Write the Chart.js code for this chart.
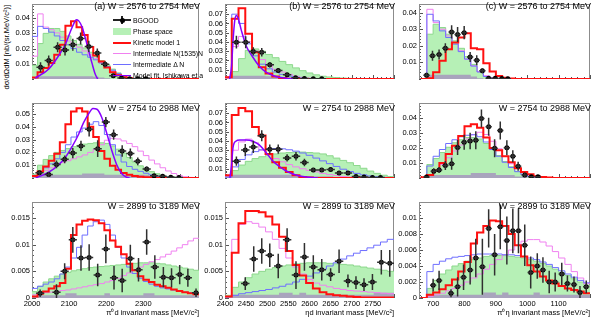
<!DOCTYPE html>
<html>
<head>
<meta charset="utf-8">
<script src="https://cdn.jsdelivr.net/npm/chart.js@4.4.0/dist/chart.umd.min.js"></script>
<style>
  body { margin: 0; background: #fff; }
  #fig { position: relative; width: 598px; height: 319px; overflow: hidden;
         font-family: "Liberation Sans", Arial, Helvetica, sans-serif; color: #000; }
  #fig canvas { position: absolute; }
  .ttl { position: absolute; font-size: 9px; line-height: 9px; white-space: nowrap; text-align: right; width: 160px; }
  .ytitle { position: absolute; left: 3px; top: 97px; width: 92px; font-size: 7.5px; line-height: 8px;
            white-space: nowrap; text-align: right; transform-origin: 0 0; transform: rotate(-90deg); }
  #legend { position: absolute; left: 0; top: 0; width: 203px; height: 100px; overflow: hidden; }
  .leg { position: absolute; left: 133px; font-size: 6.9px; line-height: 9px; white-space: nowrap; }
  .sym { position: absolute; }
</style>
</head>
<body>
<div id="fig">
  <div class="ytitle">dσ/dΩdM [nb/(sr.MeV/c²)]</div>
</div>
<script>
// ---- bin edges (MeV) for each column ----
const aEdges = [2000,2015,2030,2045,2060,2075,2090,2105,2120,2135,2150,2165,2180,2195,2210,2225,2240,2255,2270,2285,2300,2315,2330,2345,2360,2375,2390,2405,2420,2435,2450];
const bEdges = [2400,2416,2432,2448,2464,2480,2496,2512,2528,2544,2560,2576,2592,2608,2624,2640,2656,2672,2688,2704,2720,2736,2752,2768,2784,2800];
const cEdges = [660,680,700,720,740,760,780,800,820,840,860,880,900,920,940,960,980,1000,1020,1040,1060,1080,1100,1120,1140,1160,1180,1200];

// tick labels
const aTicks = [2000, 2100, 2200, 2300];
const bTicks = [2400, 2450, 2500, 2550, 2600, 2650, 2700, 2750];
const cTicks = [700, 800, 900, 1000, 1100];

// ---- W = 2576 to 2754 MeV ----
const a1Red   = [0.001,0.0044,0.0072,0.0105,0.016,0.0225,0.035,0.0379,0.034,0.029,0.021,0.0155,0.0115,0.0075,0.0045,0.0025,0.0012,0.0005,0,0,0,0,0,0,0,0,0,0,0,0];
const a1Pink  = [0.015,0.0428,0.0341,0.0324,0.0303,0.0275,0.025,0.023,0.0209,0.0184,0.0159,0.0134,0.0105,0.0077,0.0052,0.003,0.0016,0.0007,0.0002,0,0,0,0,0,0,0,0,0,0,0];
const a1Blue  = [0.028,0.0346,0.0332,0.0308,0.0283,0.0253,0.0225,0.02,0.0176,0.0159,0.0143,0.0126,0.0105,0.0082,0.0058,0.0035,0.0019,0.0009,0.0003,0,0,0,0,0,0,0,0,0,0,0];
const a1Phase = [0.009,0.0233,0.03,0.0332,0.0332,0.0313,0.0283,0.0253,0.0228,0.0204,0.0176,0.0151,0.0121,0.0093,0.0065,0.004,0.0022,0.0009,0.0003,0,0,0,0,0,0,0,0,0,0,0];
const a1Bg    = [0.001,0.0018,0.0018,0.0018,0.0018,0.0018,0.0018,0.0018,0.0018,0.0018,0.0018,0.0015,0.001,0.0005,0,0,0,0,0,0,0,0,0,0,0,0,0,0,0,0];
const a1FitM  = [2009,2046,2069,2091,2104,2113,2119,2126,2135,2144,2153,2162,2170,2177];
const a1FitV  = [0.0006,0.0068,0.0143,0.0233,0.0316,0.0366,0.039,0.0382,0.0341,0.0266,0.0184,0.0101,0.0035,0];
const a1DataM = [2023,2045,2069,2089,2110,2131,2153,2176,2197,2219,2241,2263,2285,2307];
const a1DataV = [0.0077,0.0121,0.0209,0.0191,0.0225,0.0266,0.0214,0.0171,0.0097,0.0022,0.0006,0.0002,0.0001,0.0001];
const a1DataE = [0.0033,0.0033,0.0033,0.0037,0.004,0.004,0.0037,0.003,0.002,0.001,0.0005,0.0003,0.0002,0.0002];

const b1Red   = [0.002,0.065,0.0764,0.049,0.029,0.0126,0.006,0.0027,0.001,0.0004,0,0,0,0,0,0,0,0,0,0,0,0,0,0,0];
const b1Pink  = [0.001,0.035,0.046,0.04,0.03,0.021,0.015,0.0105,0.0075,0.005,0.003,0.0018,0.001,0.0005,0,0,0,0,0,0,0,0,0,0,0];
const b1Blue  = [0.002,0.07,0.06,0.038,0.025,0.016,0.011,0.0075,0.005,0.003,0.0018,0.001,0.0005,0,0,0,0,0,0,0,0,0,0,0,0];
const b1Phase = [0,0.008,0.022,0.031,0.0325,0.03,0.0265,0.023,0.019,0.0155,0.012,0.009,0.0065,0.0045,0.003,0.0022,0.0015,0.001,0.0007,0.0004,0.0002,0,0,0,0];
const b1Bg    = [0.002,0.0035,0.0035,0.0035,0.0035,0.0035,0.003,0.0018,0.001,0.0005,0,0,0,0,0,0,0,0,0,0,0,0,0,0,0];
const b1FitM  = [2411,2415.5,2419,2423,2427,2431,2439,2450,2466,2481,2497,2520,2543,2565];
const b1FitV  = [0,0.014,0.041,0.063,0.0687,0.066,0.052,0.036,0.0235,0.014,0.0073,0.0027,0.0008,0];
const b1DataM = [2427,2449,2467,2487,2506,2526,2547,2567,2588,2609,2629];
const b1DataV = [0.0398,0.0398,0.0298,0.0289,0.0154,0.0092,0.0046,0.0013,0.0005,0.0003,0.0002];
const b1DataE = [0.0068,0.0065,0.0045,0.0045,0.003,0.002,0.0015,0.001,0.0005,0.0004,0.0003];

const c1Red   = [0,0.0005,0.004,0.011,0.018,0.022,0.025,0.0275,0.0185,0.018,0.0095,0.0045,0.0018,0.0008,0.0003,0,0,0,0,0,0,0,0,0,0,0,0];
const c1Pink  = [0,0.042,0.034,0.03,0.026,0.022,0.017,0.012,0.008,0.0045,0.002,0.0008,0,0,0,0,0,0,0,0,0,0,0,0,0,0,0];
const c1Blue  = [0,0.039,0.035,0.029,0.025,0.021,0.0165,0.012,0.0078,0.0042,0.0015,0.0005,0,0,0,0,0,0,0,0,0,0,0,0,0,0,0];
const c1Phase = [0,0.027,0.033,0.031,0.027,0.023,0.0185,0.0135,0.0088,0.0045,0.0015,0.0005,0,0,0,0,0,0,0,0,0,0,0,0,0,0,0];
const c1Bg    = [0,0.0025,0.0025,0.0025,0.0025,0.0025,0.0025,0.0025,0.0015,0.0005,0,0,0,0,0,0,0,0,0,0,0,0,0,0,0,0,0];
const c1DataM = [679,698,719,739,759,778,799,818,839,857,877,898,919,938];
const c1DataV = [0.0023,0.014,0.0148,0.0186,0.0284,0.0268,0.0279,0.0133,0.0113,0.005,0.0005,0.0004,0.0003,0.0002];
const c1DataE = [0.0015,0.003,0.003,0.003,0.004,0.0045,0.004,0.003,0.003,0.0015,0.0005,0.0004,0.0003,0.0002];

// ---- W = 2754 to 2988 MeV ----
const a2Red   = [0.0015,0.005,0.009,0.0135,0.019,0.028,0.042,0.052,0.0545,0.052,0.04,0.032,0.021,0.015,0.0095,0.0065,0.004,0.0025,0.0016,0.001,0.0006,0.0003,0,0,0,0,0,0,0,0];
const a2Pink  = [0.002,0.004,0.006,0.008,0.01,0.012,0.0135,0.015,0.0165,0.018,0.02,0.0225,0.026,0.0295,0.031,0.0305,0.029,0.027,0.0245,0.021,0.0175,0.014,0.011,0.008,0.0055,0.0035,0.002,0.001,0.0005,0.0002];
const a2Blue  = [0.002,0.005,0.008,0.011,0.015,0.02,0.026,0.032,0.036,0.039,0.042,0.044,0.041,0.034,0.026,0.018,0.0125,0.009,0.0068,0.0052,0.0037,0.0025,0.0015,0.0008,0.0004,0,0,0,0,0];
const a2Phase = [0.003,0.01,0.0145,0.0175,0.02,0.0215,0.023,0.0245,0.0255,0.0265,0.027,0.0275,0.0275,0.027,0.025,0.0225,0.0195,0.016,0.0125,0.0095,0.007,0.005,0.0033,0.002,0.0012,0.0006,0.0002,0,0,0];
const a2Bg    = [0.001,0.0025,0.0025,0.0025,0.0025,0.0025,0.0025,0.0025,0.0025,0.0035,0.0035,0.0035,0.0035,0.0025,0.0025,0.0025,0.0025,0.0025,0.0025,0.0025,0.0025,0.0015,0.0015,0.0015,0.0015,0,0,0,0,0];
const a2FitM  = [2010,2046,2073,2091,2108,2126,2139,2153,2164,2175,2188,2201,2215,2228,2241,2254,2263];
const a2FitV  = [0,0.0047,0.0106,0.0166,0.0245,0.0344,0.0433,0.0503,0.0543,0.0537,0.0473,0.0354,0.0215,0.0106,0.0037,0.0007,0];
const a2DataM = [2020,2045,2066,2088,2110,2132,2154,2177,2199,2220,2243,2265,2285,2309,2329,2352,2374,2396];
const a2DataV = [0.0041,0.0027,0.0106,0.0146,0.0195,0.0251,0.038,0.0229,0.0437,0.0338,0.0211,0.0191,0.013,0.007,0.0017,0.0013,0.0005,0.0003];
const a2DataE = [0.002,0.002,0.003,0.003,0.004,0.004,0.0055,0.0065,0.004,0.004,0.0045,0.004,0.003,0.002,0.001,0.001,0.0005,0.0003];

const b2Red   = [0.003,0.068,0.0757,0.072,0.055,0.046,0.026,0.017,0.011,0.0065,0.003,0.0012,0.0005,0,0,0,0,0,0,0,0,0,0,0,0];
const b2Pink  = [0.002,0.03,0.039,0.042,0.038,0.03,0.025,0.021,0.0175,0.0145,0.012,0.01,0.0082,0.0066,0.005,0.0037,0.0026,0.0017,0.001,0.0005,0,0,0,0,0];
const b2Blue  = [0.001,0.012,0.02,0.025,0.0285,0.0305,0.0315,0.0318,0.0315,0.0305,0.029,0.027,0.0245,0.0215,0.0185,0.0155,0.0125,0.0095,0.007,0.005,0.0034,0.0022,0.0013,0.0007,0.0003];
const b2Phase = [0.001,0.008,0.014,0.018,0.021,0.023,0.0245,0.026,0.027,0.0275,0.028,0.028,0.0275,0.027,0.026,0.024,0.0215,0.019,0.0165,0.0135,0.0105,0.0075,0.005,0.003,0.0015];
const b2Bg    = [0.002,0.0035,0.0035,0.0035,0.0035,0.0035,0.0035,0.0035,0.0035,0.0035,0.002,0.002,0.002,0.002,0.002,0.002,0.001,0.001,0.001,0.001,0.001,0,0,0,0];
const b2FitM  = [2411.6,2415.5,2419,2425.6,2435,2450,2466,2481,2497,2512,2528,2543,2559,2574,2598,2620];
const b2FitV  = [0,0.014,0.033,0.0397,0.041,0.041,0.0397,0.0357,0.0276,0.019,0.0127,0.0081,0.0046,0.0025,0.0008,0];
const b2DataM = [2427,2448,2467,2487,2506,2526,2547,2568,2588,2609,2629,2650,2670,2691,2710,2729,2749,2768];
const b2DataV = [0.0181,0.0303,0.0336,0.0457,0.0311,0.0311,0.0217,0.0235,0.0168,0.0087,0.0087,0.0092,0.0054,0.0054,0.0017,0.0011,0.0006,0.0005];
const b2DataE = [0.005,0.0065,0.0065,0.006,0.005,0.005,0.004,0.0045,0.004,0.002,0.002,0.002,0.002,0.0015,0.001,0.0008,0.0005,0.0004];

const c2Red   = [0.0005,0.002,0.005,0.01,0.016,0.0215,0.028,0.0345,0.0358,0.0335,0.027,0.02,0.0185,0.0145,0.0105,0.0065,0.004,0.0025,0.0012,0.0006,0.0003,0,0,0,0,0,0];
const c2Pink  = [0,0.002,0.005,0.009,0.0135,0.018,0.022,0.026,0.029,0.0305,0.029,0.0245,0.0195,0.0145,0.0095,0.0062,0.0035,0.0018,0.0008,0.0003,0,0,0,0,0,0,0];
const c2Blue  = [0,0.008,0.0145,0.019,0.023,0.0255,0.0275,0.0285,0.0288,0.0275,0.024,0.019,0.0145,0.0105,0.007,0.0042,0.0022,0.001,0.0004,0,0,0,0,0,0,0,0];
const c2Phase = [0,0.009,0.013,0.017,0.0205,0.0235,0.0255,0.027,0.027,0.026,0.023,0.019,0.015,0.011,0.0075,0.0045,0.0022,0.001,0.0003,0,0,0,0,0,0,0,0];
const c2Bg    = [0,0.002,0.002,0.002,0.002,0.002,0.002,0.002,0.0033,0.0033,0.0033,0.0033,0.002,0.002,0.002,0.001,0.001,0,0,0,0,0,0,0,0,0,0];
const c2DataM = [679,702,719,739,759,778,799,818,836,854,877,896,914,935,954,971,992,1013,1034];
const c2DataV = [0.0006,0.0045,0.0053,0.0083,0.0095,0.0204,0.0238,0.0246,0.0251,0.0397,0.0341,0.0199,0.0316,0.0201,0.0145,0.0078,0.002,0.0008,0.0008];
const c2DataE = [0.0005,0.002,0.002,0.003,0.004,0.005,0.005,0.0055,0.006,0.006,0.006,0.006,0.006,0.005,0.004,0.003,0.0015,0.0006,0.0006];

// ---- W = 2899 to 3189 MeV ----
const a3Red   = [0.0003,0.0008,0.0012,0.0018,0.0022,0.0028,0.0055,0.0118,0.0138,0.0145,0.0147,0.0146,0.014,0.0127,0.0108,0.0096,0.0082,0.0064,0.0052,0.0041,0.0034,0.003,0.0025,0.0022,0.0019,0.0016,0.0013,0.0011,0.0009,0.0007];
const a3Pink  = [0.0006,0.0009,0.001,0.0011,0.0012,0.0014,0.0015,0.0017,0.0019,0.0021,0.0023,0.0025,0.0027,0.003,0.0033,0.0037,0.0042,0.0047,0.0053,0.0058,0.0063,0.0068,0.0072,0.0077,0.0082,0.0088,0.0094,0.01,0.0107,0.0112];
const a3Blue  = [0.0018,0.0022,0.0026,0.003,0.0036,0.0045,0.0058,0.0075,0.0095,0.0118,0.0135,0.0143,0.0146,0.0138,0.0118,0.0095,0.0075,0.0058,0.0046,0.0037,0.0031,0.0026,0.0022,0.0019,0.0017,0.0015,0.0013,0.0011,0.001,0.0009];
const a3Phase = [0.0012,0.0022,0.003,0.0036,0.0041,0.0045,0.0048,0.0051,0.0053,0.0055,0.0057,0.0058,0.0059,0.006,0.0061,0.0062,0.0063,0.0064,0.0065,0.0066,0.0066,0.0066,0.0065,0.0064,0.0062,0.006,0.0058,0.0056,0.0054,0.0052];
const a3Bg    = [0.0002,0.0005,0.0005,0.0005,0.0005,0.0005,0.0009,0.0009,0.0005,0.0005,0.0005,0.0005,0.0005,0.0009,0.0005,0.0005,0.0005,0.0005,0.0005,0.0005,0.0009,0.0009,0.0005,0.0005,0.0005,0.0005,0.0005,0.0005,0.0005,0.0005];
const a3DataM = [2022,2066,2088,2110,2132,2154,2177,2199,2221,2243,2265,2287,2309,2331,2354,2376,2398,2420,2442];
const a3DataV = [0.0009,0.0011,0.005,0.0109,0.0075,0.0076,0.0043,0.0092,0.0038,0.0033,0.0074,0.0053,0.0105,0.0058,0.0039,0.0038,0.0044,0.0038,0.001];
const a3DataE = [0.0007,0.0015,0.0015,0.0024,0.0024,0.0025,0.0021,0.0027,0.0022,0.0022,0.0026,0.0022,0.0024,0.0022,0.0019,0.0018,0.0018,0.0017,0.0008];

const b3Red   = [0.0003,0.0085,0.014,0.0163,0.0163,0.0161,0.0153,0.0138,0.0115,0.0088,0.0062,0.0042,0.0028,0.0018,0.0011,0.0007,0.0005,0.0004,0.0003,0.0002,0.0001,0.0001,0.0001,0.0001,0.0001];
const b3Pink  = [0.0002,0.011,0.0138,0.0143,0.014,0.0133,0.0124,0.011,0.0093,0.0075,0.0058,0.0045,0.0035,0.0028,0.0024,0.0021,0.0018,0.0016,0.0014,0.0013,0.0012,0.0011,0.001,0.0009,0.0008];
const b3Blue  = [0.0002,0.0005,0.0008,0.001,0.0012,0.0014,0.0016,0.0019,0.0022,0.0026,0.003,0.0035,0.0041,0.0047,0.0054,0.006,0.0066,0.0073,0.0079,0.0084,0.0089,0.0094,0.0099,0.0105,0.011];
const b3Phase = [0.0005,0.002,0.003,0.0038,0.0045,0.005,0.0054,0.0057,0.006,0.0062,0.0064,0.0065,0.0066,0.0066,0.0066,0.0065,0.0064,0.0063,0.0062,0.006,0.0058,0.0056,0.0054,0.0052,0.005];
const b3Bg    = [0.0003,0.0006,0.0006,0.0006,0.0006,0.0006,0.0006,0.0006,0.001,0.001,0.0006,0.001,0.0006,0.0006,0.0006,0.0006,0.0006,0.0006,0.0006,0.0006,0.0006,0.0006,0.001,0.001,0.001];
const b3DataM = [2448,2468,2487,2506,2526,2547,2568,2588,2609,2629,2650,2670,2691,2710,2729,2749,2770,2790];
const b3DataV = [0.0027,0.0073,0.0088,0.008,0.006,0.0109,0.0043,0.0077,0.0058,0.0053,0.0044,0.0069,0.0032,0.0029,0.0025,0.003,0.0067,0.0065];
const b3DataE = [0.0012,0.0024,0.0024,0.0022,0.0023,0.0022,0.0026,0.0026,0.0022,0.002,0.0012,0.0022,0.0012,0.0012,0.0012,0.0015,0.0023,0.0025];

const c3Red   = [0,0.0004,0.0007,0.0011,0.0016,0.0023,0.0033,0.0045,0.0068,0.0082,0.009,0.0097,0.0096,0.009,0.008,0.0066,0.0052,0.0041,0.0033,0.0027,0.0022,0.0018,0.0015,0.0012,0.001,0.0008,0.0006];
const c3Pink  = [0,0.0002,0.0004,0.0006,0.0009,0.0012,0.0016,0.002,0.0025,0.003,0.0036,0.0042,0.0048,0.0054,0.006,0.0066,0.0071,0.0073,0.0073,0.007,0.0065,0.0058,0.005,0.0042,0.0033,0.0025,0.0018];
const c3Blue  = [0,0.0033,0.0042,0.0046,0.0049,0.0051,0.0052,0.0053,0.0054,0.0055,0.0055,0.0055,0.0055,0.0054,0.0054,0.0053,0.0052,0.005,0.0048,0.0045,0.0042,0.0038,0.0034,0.003,0.0026,0.0022,0.0019];
const c3Phase = [0,0.0012,0.0022,0.003,0.0035,0.004,0.0043,0.0046,0.0048,0.005,0.0052,0.0053,0.0053,0.0053,0.0052,0.0051,0.005,0.0048,0.0046,0.0043,0.004,0.0036,0.0032,0.0028,0.0024,0.002,0.0016];
const c3Bg    = [0,0.0004,0.0004,0.0004,0.0004,0.0004,0.0004,0.0004,0.0004,0.0004,0.0007,0.0007,0.0004,0.0007,0.0004,0.0004,0.0004,0.0004,0.0007,0.0004,0.0004,0.0004,0.0004,0.0004,0.0004,0.0004,0.0004];
const c3DataM = [700,719,757,778,797,818,836,857,877,896,914,935,954,972,992,1011,1032,1050,1070,1089,1110,1128,1149,1168,1188];
const c3DataV = [0.0016,0.0022,0.0006,0.0014,0.0026,0.0035,0.005,0.0039,0.0087,0.0054,0.0089,0.0072,0.0084,0.0084,0.0066,0.0032,0.004,0.0035,0.002,0.002,0.003,0.0018,0.0017,0.0007,0.0014];
const c3DataE = [0.0008,0.0012,0.0005,0.0012,0.0016,0.0018,0.0024,0.0035,0.0024,0.0026,0.0028,0.003,0.0028,0.0028,0.0026,0.002,0.0016,0.0016,0.0014,0.0012,0.0014,0.001,0.001,0.0008,0.0008];

// ---- layout / style ----
const fontFamily = "'Liberation Sans', Arial, Helvetica, sans-serif";
Chart.defaults.font.family = fontFamily;

const colors = {
    red: '#ff1010',
    pink: '#f080f0',
    blue: '#6e6eff',
    fit: '#8800ff',
    phase: '#b6f0b6',
    phaseLine: '#8cd88c',
    bg: '#a9a4bd',
    frame: '#8c8c8c'
};

const columns = {
    a: { edges: aEdges, min: 2000, max: 2450, left: 32, width: 170, axisW: 32, ticks: aTicks, minor: 20, halfBin: 11,
         title: 'π⁰d invariant mass [MeV/c²]' },
    b: { edges: bEdges, min: 2400, max: 2800, left: 225, width: 172, axisW: 26, ticks: bTicks, minor: 10, halfBin: 10,
         title: 'ηd invariant mass [MeV/c²]' },
    c: { edges: cEdges, min: 655, max: 1200, left: 419, width: 174, axisW: 26, ticks: cTicks, minor: 20, halfBin: 10,
         title: 'π⁰η invariant mass [MeV/c²]' }
};
const rowGeo = [
    { top: 1, height: 99, titleTop: 2 },
    { top: 100, height: 99, titleTop: 103.5 },
    { top: 199, height: 99, titleTop: 202 }
];
const xAxisH = 21;

const panels = [
    { col: 'a', row: 0, ymax: 0.0493, yTicks: [0.01, 0.02, 0.03, 0.04], yMinor: 0.002, title: '(a) W = 2576 to 2754 MeV',
      red: a1Red, pink: a1Pink, blue: a1Blue, phase: a1Phase, bg: a1Bg, fitM: a1FitM, fitV: a1FitV, dm: a1DataM, dv: a1DataV, de: a1DataE },
    { col: 'b', row: 0, ymax: 0.081, yTicks: [0.01, 0.02, 0.03, 0.04, 0.05, 0.06, 0.07], yMinor: 0.002, title: '(b) W = 2576 to 2754 MeV',
      red: b1Red, pink: b1Pink, blue: b1Blue, phase: b1Phase, bg: b1Bg, fitM: b1FitM, fitV: b1FitV, dm: b1DataM, dv: b1DataV, de: b1DataE },
    { col: 'c', row: 0, ymax: 0.0452, yTicks: [0.01, 0.02, 0.03, 0.04], yMinor: 0.002, title: '(c) W = 2576 to 2754 MeV',
      red: c1Red, pink: c1Pink, blue: c1Blue, phase: c1Phase, bg: c1Bg, dm: c1DataM, dv: c1DataV, de: c1DataE },
    { col: 'a', row: 1, ymax: 0.0586, yTicks: [0.01, 0.02, 0.03, 0.04, 0.05], yMinor: 0.002, title: 'W = 2754 to 2988 MeV',
      red: a2Red, pink: a2Pink, blue: a2Blue, phase: a2Phase, bg: a2Bg, fitM: a2FitM, fitV: a2FitV, dm: a2DataM, dv: a2DataV, de: a2DataE },
    { col: 'b', row: 1, ymax: 0.081, yTicks: [0.01, 0.02, 0.03, 0.04, 0.05, 0.06, 0.07], yMinor: 0.002, title: 'W = 2754 to 2988 MeV',
      red: b2Red, pink: b2Pink, blue: b2Blue, phase: b2Phase, bg: b2Bg, fitM: b2FitM, fitV: b2FitV, dm: b2DataM, dv: b2DataV, de: b2DataE },
    { col: 'c', row: 1, ymax: 0.05, yTicks: [0.01, 0.02, 0.03, 0.04], yMinor: 0.002, title: 'W = 2754 to 2988 MeV',
      red: c2Red, pink: c2Pink, blue: c2Blue, phase: c2Phase, bg: c2Bg, dm: c2DataM, dv: c2DataV, de: c2DataE },
    { col: 'a', row: 2, ymax: 0.018, yTicks: [0, 0.005, 0.01, 0.015], yMinor: 0.001, title: 'W = 2899 to 3189 MeV',
      red: a3Red, pink: a3Pink, blue: a3Blue, phase: a3Phase, bg: a3Bg, dm: a3DataM, dv: a3DataV, de: a3DataE },
    { col: 'b', row: 2, ymax: 0.018, yTicks: [0, 0.005, 0.01, 0.015], yMinor: 0.001, title: 'W = 2899 to 3189 MeV',
      red: b3Red, pink: b3Pink, blue: b3Blue, phase: b3Phase, bg: b3Bg, dm: b3DataM, dv: b3DataV, de: b3DataE },
    { col: 'c', row: 2, ymax: 0.012, yTicks: [0, 0.002, 0.004, 0.006, 0.008, 0.01], yMinor: 0.0004, title: 'W = 2899 to 3189 MeV',
      red: c3Red, pink: c3Pink, blue: c3Blue, phase: c3Phase, bg: c3Bg, dm: c3DataM, dv: c3DataV, de: c3DataE }
];

// histogram -> stepped points (lower edge of every bin, plus the last upper edge)
function hist(edges, vals) {
    const pts = vals.map((v, i) => ({ x: edges[i], y: v }));
    pts.push({ x: edges[vals.length], y: vals[vals.length - 1] });
    return pts;
}

function pairs(xs, ys) {
    return xs.map((x, i) => ({ x: x, y: ys[i] }));
}

function minorValues(min, max, step) {
    const out = [];
    for (let k = Math.ceil(min / step); k * step <= max + 1e-9; k++) {
        out.push(Math.round(k * step * 1e6) / 1e6);
    }
    return out;
}

function fmt(v) {
    return String(parseFloat(v.toFixed(4)));
}

// Frame, inner ticks (ROOT style) and error bars
function rootStyle(panel, col) {
    return {
        id: 'rootStyle',
        beforeDatasetsDraw(chart) {
            const { ctx, chartArea: a, scales: { x, y } } = chart;
            ctx.save();
            ctx.strokeStyle = '#555';
            ctx.lineWidth = 1;
            ctx.beginPath();
            minorValues(0, panel.ymax, panel.yMinor).forEach(v => {
                const py = Math.round(y.getPixelForValue(v)) + 0.5;
                const len = panel.yTicks.some(t => Math.abs(t - v) < 1e-9) ? 4 : 2;
                ctx.moveTo(a.left, py); ctx.lineTo(a.left + len, py);
            });
            minorValues(col.min, col.max, col.minor).forEach(v => {
                const px = Math.round(x.getPixelForValue(v)) + 0.5;
                const len = (v % (col.ticks[1] - col.ticks[0])) === 0 ? 4 : 2;
                ctx.moveTo(px, a.bottom); ctx.lineTo(px, a.bottom - len);
            });
            ctx.stroke();
            ctx.strokeStyle = colors.frame;
            ctx.strokeRect(a.left + 0.5, a.top + 0.5, a.right - a.left - 1, a.bottom - a.top - 1);
            ctx.restore();
        },
        afterDatasetsDraw(chart) {
            const { ctx, chartArea: a, scales: { x, y } } = chart;
            ctx.save();
            ctx.beginPath();
            ctx.rect(a.left, a.top, a.right - a.left, a.bottom - a.top);
            ctx.clip();
            ctx.strokeStyle = '#303030';
            ctx.lineWidth = 1.5;
            ctx.beginPath();
            panel.dm.forEach((m, i) => {
                const px = x.getPixelForValue(m);
                const py = y.getPixelForValue(panel.dv[i]);
                ctx.moveTo(x.getPixelForValue(m - col.halfBin), py);
                ctx.lineTo(x.getPixelForValue(m + col.halfBin), py);
                ctx.moveTo(px, y.getPixelForValue(panel.dv[i] - panel.de[i]));
                ctx.lineTo(px, y.getPixelForValue(panel.dv[i] + panel.de[i]));
            });
            ctx.stroke();
            ctx.restore();
        }
    };
}

const fig = document.getElementById('fig');

panels.forEach(panel => {
    const col = columns[panel.col];
    const geo = rowGeo[panel.row];
    const bottomRow = panel.row === 2;

    const canvas = document.createElement('canvas');
    const w = col.axisW + col.width + 1;
    const h = geo.height + 1 + (bottomRow ? xAxisH : 1);
    canvas.width = w;
    canvas.height = h;
    canvas.style.width = w + 'px';
    canvas.style.height = h + 'px';
    canvas.style.left = (col.left - col.axisW) + 'px';
    canvas.style.top = (geo.top - 1) + 'px';
    fig.appendChild(canvas);

    const datasets = [
        { label: 'Phase space', data: hist(col.edges, panel.phase), stepped: true, fill: 'origin',
          backgroundColor: colors.phase, borderColor: colors.phaseLine, borderWidth: 1, order: 6 },
        { label: 'Background', data: hist(col.edges, panel.bg), stepped: true, fill: 'origin',
          backgroundColor: colors.bg, borderWidth: 0, order: 5 },
        { label: 'Intermediate N(1535)N', data: hist(col.edges, panel.pink), stepped: true,
          borderColor: colors.pink, borderWidth: 1, order: 4 },
        { label: 'Intermediate Δ N', data: hist(col.edges, panel.blue), stepped: true,
          borderColor: colors.blue, borderWidth: 1, order: 3 },
        { label: 'Kinetic model 1', data: hist(col.edges, panel.red), stepped: true,
          borderColor: colors.red, borderWidth: 2, order: 2 }
    ];
    if (panel.fitM) {
        datasets.push({ label: 'Model fit, Ishikawa et al.', data: pairs(panel.fitM, panel.fitV),
            cubicInterpolationMode: 'monotone', borderColor: colors.fit, borderWidth: 1.5, order: 1 });
    }
    datasets.push({ label: 'BGOOD', data: pairs(panel.dm, panel.dv), showLine: false,
        pointRadius: 2.5, pointBackgroundColor: '#000', pointBorderWidth: 0, order: 0 });

    new Chart(canvas, {
        type: 'line',
        data: { datasets: datasets },
        options: {
            responsive: false,
            animation: false,
            events: [],
            layout: { padding: { top: 1, right: 1, bottom: bottomRow ? 0 : 1, left: 0 } },
            elements: { point: { radius: 0 } },
            plugins: { legend: { display: false }, tooltip: { enabled: false } },
            scales: {
                x: {
                    type: 'linear', min: col.min, max: col.max, display: bottomRow,
                    grid: { display: false, drawTicks: false }, border: { display: false },
                    ticks: { font: { size: 7.5 }, color: '#000', padding: 1, maxRotation: 0, autoSkip: false,
                             callback: v => String(v) },
                    title: { display: true, text: col.title, align: 'end', color: '#000',
                             font: { size: 7.5 }, padding: { top: 0, bottom: 1.5 } },
                    afterBuildTicks: s => { s.ticks = col.ticks.map(v => ({ value: v })); },
                    afterFit: s => { s.height = xAxisH; s.paddingLeft = 0; s.paddingRight = 0; }
                },
                y: {
                    type: 'linear', min: 0, max: panel.ymax,
                    grid: { display: false, drawTicks: false }, border: { display: false },
                    ticks: { font: { size: 7.5 }, color: '#000', padding: 2, autoSkip: false, callback: v => fmt(v) },
                    afterBuildTicks: s => { s.ticks = panel.yTicks.map(v => ({ value: v })); },
                    afterFit: s => { s.width = col.axisW; s.paddingTop = 0; s.paddingBottom = 0; }
                }
            }
        },
        plugins: [rootStyle(panel, col)]
    });

    // panel title, top right inside the frame
    const t = document.createElement('div');
    t.className = 'ttl';
    t.textContent = panel.title;
    t.style.left = (col.left + col.width - 2 - 160) + 'px';
    t.style.top = geo.titleTop + 'px';
    fig.appendChild(t);
});

// Legend (inside panel a, first row), clipped at the frame edge
const legendItems = [
    { text: 'BGOOD', y: 20, kind: 'data' },
    { text: 'Phase space', y: 31.5, kind: 'box' },
    { text: 'Kinetic model 1', y: 42.5, kind: 'line', color: colors.red, lw: 2 },
    { text: 'Intermediate N(1535)N', y: 53.5, kind: 'line', color: colors.pink, lw: 1 },
    { text: 'Intermediate Δ N', y: 64.5, kind: 'line', color: colors.blue, lw: 1 },
    { text: 'Model fit, Ishikawa et al.', y: 75.5, kind: 'line', color: colors.fit, lw: 1.5 }
];
const legend = document.createElement('div');
legend.id = 'legend';
fig.appendChild(legend);

function addBox(left, top, width, height, css) {
    const d = document.createElement('div');
    d.className = 'sym';
    d.style.cssText += `left:${left}px;top:${top}px;width:${width}px;height:${height}px;${css}`;
    legend.appendChild(d);
}
legendItems.forEach(item => {
    if (item.kind === 'data') {
        addBox(113, item.y - 0.75, 18, 1.5, 'background:#222');
        addBox(121.25, item.y - 4, 1.5, 8, 'background:#222');
        addBox(119.5, item.y - 2.5, 5, 5, 'background:#000;border-radius:50%');
    } else if (item.kind === 'box') {
        addBox(113, item.y - 3.5, 18, 7, `background:${colors.phase}`);
    } else {
        addBox(113, item.y - item.lw / 2, 18, item.lw, `background:${item.color}`);
    }
    const t = document.createElement('div');
    t.className = 'leg';
    t.textContent = item.text;
    t.style.top = (item.y - 4.5) + 'px';
    legend.appendChild(t);
});
</script>
</body>
</html>
